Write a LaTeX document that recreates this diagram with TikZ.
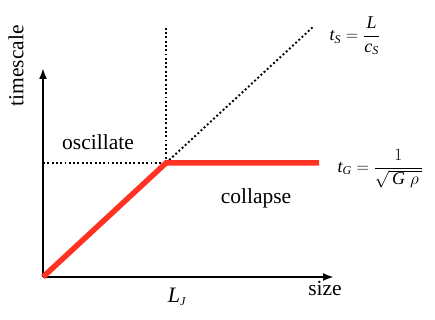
\documentclass[tikz,border=0pt]{standalone}
\usepackage{amsmath}
\usepackage{fontspec}
\setmainfont{Liberation Serif}
\usepackage{xcolor}
\definecolor{redline}{RGB}{255,50,35}
\newcommand{\itx}[1]{\mbox{\itshape #1}}
\newcommand{\subx}[1]{\mbox{\fontsize{12}{13}\selectfont\itshape #1}}
\tikzset{
  axis/.style={line width=2.8pt,-{Latex[length=11pt,width=8pt]}},
  dotline/.style={line width=1.9pt,dash pattern=on 1.9pt off 2.4pt},
  growth/.style={line width=5.5pt,redline},
  lbl/.style={font=\fontsize{21.5}{24}\selectfont},
  eqn/.style={font=\fontsize{18}{20}\selectfont,anchor=west}
}
\usetikzlibrary{arrows.meta}
\begin{document}
\begin{tikzpicture}[x=1pt,y=-1pt]
    \useasboundingbox (0,0) rectangle (435,320);
    \coordinate (O) at (43,277);
    \coordinate (K) at (166,163);
    \coordinate (Ytop) at (43,68);
    \coordinate (Xend) at (334,277);
    \coordinate (Vtop) at (166,26);
    \coordinate (Lft) at (43,163);
    \coordinate (Dend) at (314,26);
    \coordinate (Rend) at (319,163);
    % dotted guides
    \draw[dotline] (K) -- (Vtop);
    \draw[dotline] (Lft) -- (K);
    \draw[dotline] (K) -- (Dend);
    % axes
    \draw[axis] (O) -- (Ytop);
    \draw[axis] (O) -- (Xend);
    % timescale curve
    \draw[growth,line join=miter] (O) -- (K) -- (Rend);
    % labels
    \node[lbl,rotate=90] (ylab) at (16,66) {timescale};
    \node[lbl] (xlab) at (325,288) {size};
    \node[lbl] (osc) at (98,142) {oscillate};
    \node[lbl] (col) at (256,198) {collapse};
    \node[font=\fontsize{22}{24}\selectfont] (lj) at (177,297) {\itx{L}$_{\subx{J}}$};
    \node[eqn] (ts) at (326,36) {$\itx{t}_{\subx{S}}=\dfrac{\itx{L}}{\itx{c}_{\subx{S}}}$};
    \node[eqn] (tg) at (334,169) {$\itx{t}_{\subx{G}}=\dfrac{1}{\sqrt{\,\itx{G}\;\rho\,}}$};
  \end{tikzpicture}
\end{document}
